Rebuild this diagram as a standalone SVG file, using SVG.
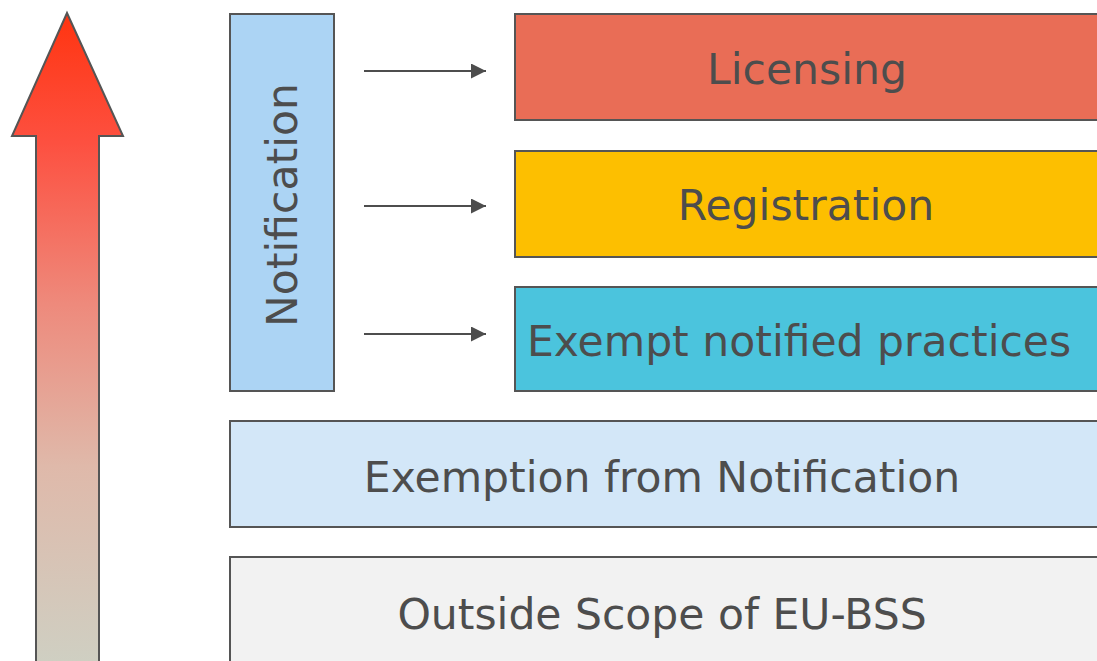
<svg xmlns="http://www.w3.org/2000/svg" width="1097" height="661" viewBox="0 0 1097 661">
<style>
.box{stroke:#555;stroke-width:2}
.t{font-family:"DejaVu Sans",Verdana,sans-serif;font-size:42.5px;fill:#4d4d4d;text-anchor:middle}
.c{stroke:#4d4d4d;stroke-width:2;fill:none}
</style>
<defs>
<linearGradient id="g" x1="0" y1="13" x2="0" y2="661" gradientUnits="userSpaceOnUse">
<stop offset="0" stop-color="#ff3410"/>
<stop offset="0.2" stop-color="#fd5040"/>
<stop offset="0.45" stop-color="#ee8a7c"/>
<stop offset="0.7" stop-color="#dfb9aa"/>
<stop offset="1" stop-color="#cfcfc2"/>
</linearGradient>
<marker id="ah" viewBox="0 0 10 10" refX="10" refY="5" markerWidth="15" markerHeight="15" markerUnits="userSpaceOnUse" orient="auto">
<path d="M0,0 L10,5 L0,10 z" fill="#4d4d4d"/>
</marker>
</defs>
<g id="scale-arrow">
<path d="M67,13 L123,136 L99,136 L99,670 L36,670 L36,136 L12,136 Z" fill="url(#g)" stroke="#555" stroke-width="2"/>
</g>
<g id="notification">
<rect class="box" x="230" y="14" width="104" height="377" fill="#acd4f4"/>
<text class="t" transform="translate(297,205) rotate(-90)">Notification</text>
</g>
<g id="licensing">
<rect class="box" x="515" y="14" width="600" height="106" fill="#e96d56"/>
<text class="t" x="807" y="84">Licensing</text>
</g>
<g id="registration">
<rect class="box" x="515" y="151" width="600" height="106" fill="#fdbf00"/>
<text class="t" x="806" y="220">Registration</text>
</g>
<g id="exempt-notified">
<rect class="box" x="515" y="287" width="600" height="104" fill="#4bc4dd"/>
<text class="t" x="799" y="356">Exempt notified practices</text>
</g>
<g id="exemption">
<rect class="box" x="230" y="421" width="885" height="106" fill="#d3e7f8"/>
<text class="t" x="662" y="492">Exemption from Notification</text>
</g>
<g id="outside">
<rect class="box" x="230" y="557" width="885" height="120" fill="#f2f2f2"/>
<text class="t" x="662" y="629">Outside Scope of EU-BSS</text>
</g>
<g id="connectors">
<line class="c" x1="364" y1="71" x2="486" y2="71" marker-end="url(#ah)"/>
<line class="c" x1="364" y1="206" x2="486" y2="206" marker-end="url(#ah)"/>
<line class="c" x1="364" y1="334" x2="486" y2="334" marker-end="url(#ah)"/>
</g>
</svg>
